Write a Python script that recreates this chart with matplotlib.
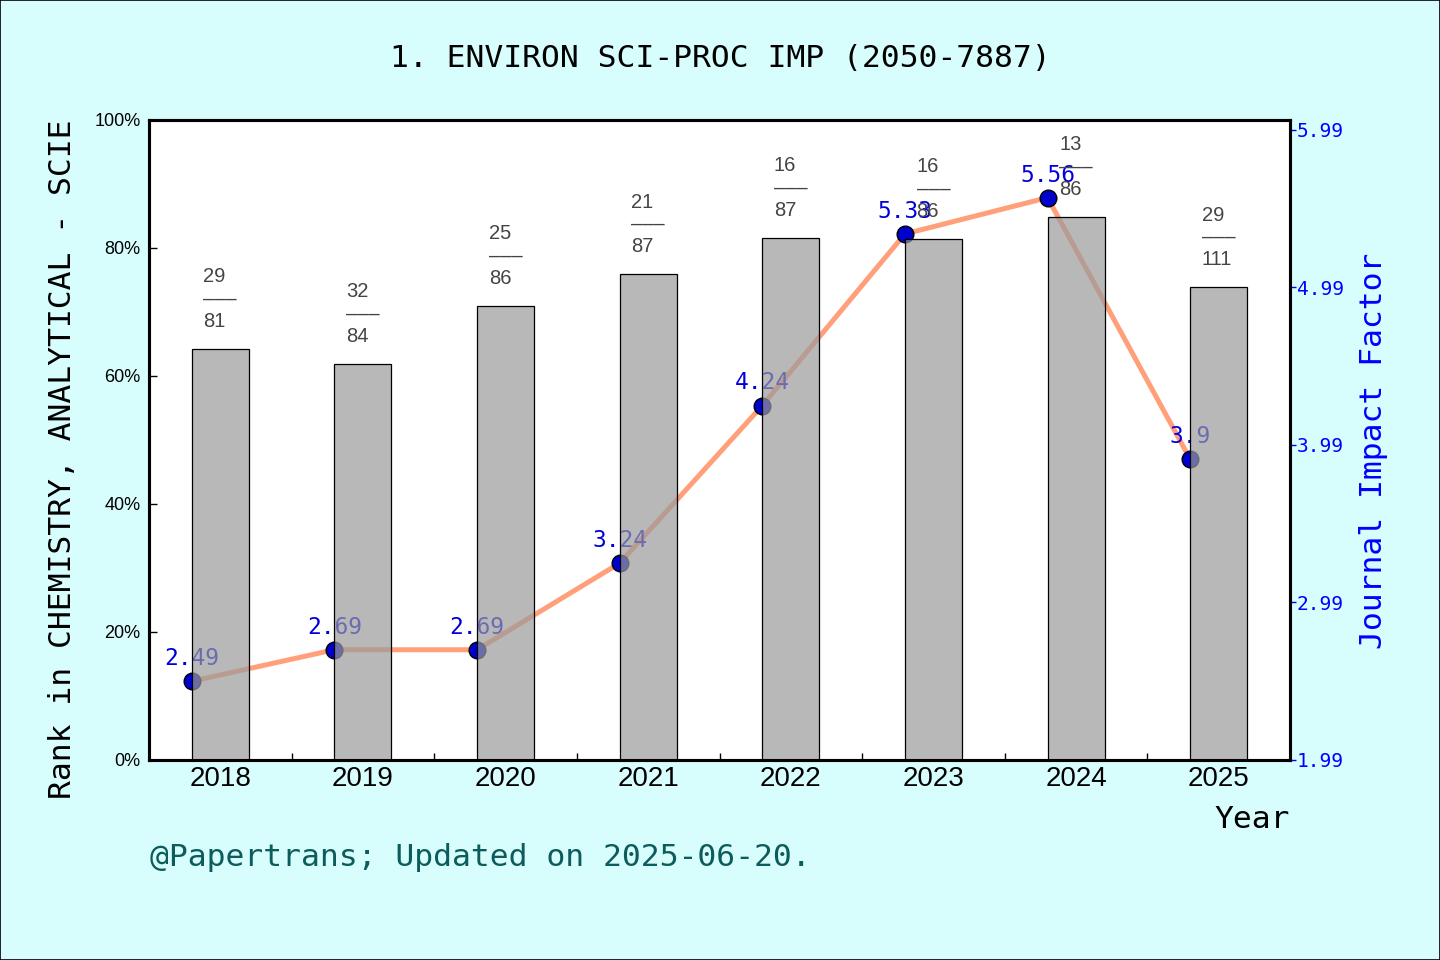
import matplotlib
matplotlib.use("Agg")
import matplotlib.pyplot as plt
import numpy as np

years = ["2018", "2019", "2020", "2021", "2022", "2023", "2024", "2025"]
ranks = [29, 32, 25, 21, 16, 16, 13, 29]
totals = [81, 84, 86, 87, 87, 86, 86, 111]
impact = [2.49, 2.69, 2.69, 3.24, 4.24, 5.33, 5.56, 3.9]
if_ticks = [1.99, 2.99, 3.99, 4.99, 5.99]

title = "1. ENVIRON SCI-PROC IMP (2050-7887)"
ylabel_left = "Rank in CHEMISTRY, ANALYTICAL - SCIE"
ylabel_right = "Journal Impact Factor"
footer = "@Papertrans; Updated on 2025-06-20."

W, H = 1440, 960
BG = "#d8fdfd"
MONO = "DejaVu Sans Mono"
SANS = "Liberation Sans"

fig = plt.figure(figsize=(W / 100, H / 100), dpi=100, facecolor=BG)
fig.patches.append(plt.Rectangle((0, 0), 1, 1, transform=fig.transFigure,
                                 fill=False, edgecolor="black", linewidth=1.2))

rect = [149 / W, 1 - 760 / H, (1290 - 149) / W, (760 - 120) / H]
ax = fig.add_axes(rect)
ax2 = ax.twinx()
ax.set_zorder(2)
ax2.set_zorder(1)
ax.patch.set_visible(False)
ax2.patch.set_visible(True)
ax2.patch.set_facecolor("white")

x = np.arange(len(years))
pct = [100 * (1 - r / t) for r, t in zip(ranks, totals)]

# Bars (top layer, semi-transparent face)
ax.bar(x, pct, width=0.4, align="edge",
       facecolor=(154 / 255, 155 / 255, 156 / 255, 0.7),
       edgecolor="black", linewidth=0.9)
for xi, p, r, t in zip(x, pct, ranks, totals):
    ax.annotate(f"{r}\n–––\n{t}", (xi + 0.2, p), xytext=(0, 13),
                textcoords="offset points", ha="center", va="bottom",
                multialignment="left",
                fontsize=14.5, color="#444444", family=SANS, linespacing=1.22)

ax.set_xlim(-0.3, 7.7)
ax.set_ylim(0, 100)
ax.set_yticks([0, 20, 40, 60, 80, 100])
ax.set_yticklabels([f"{v}%" for v in [0, 20, 40, 60, 80, 100]],
                   family=SANS, fontsize=13)
ax.tick_params(axis="y", direction="in", length=6, width=1, pad=6)

ax.set_xticks(x + 0.7)
ax.set_xticklabels([])
ax.set_xticks(x + 0.2, minor=True)
ax.set_xticklabels(years, minor=True, family=SANS, fontsize=20)
ax.tick_params(axis="x", which="major", direction="in", length=5, width=1)
ax.tick_params(axis="x", which="minor", length=0, pad=4)

# Line (bottom layer)
ax2.plot(x, impact, color="#ffa07a", linewidth=3.6, zorder=2)
ax2.plot(x, impact, linestyle="none", marker="o", markersize=12,
         markerfacecolor="#0000cc", markeredgecolor="black",
         markeredgewidth=1, zorder=3)
for xi, v in zip(x, impact):
    ax2.annotate(f"{v:g}", (xi, v), xytext=(0, 8), textcoords="offset points",
                 ha="center", va="bottom", fontsize=16.5, color="#0000dd",
                 family=MONO)
ax2.set_ylim(1.99, 6.053)
ax2.set_yticks(if_ticks)
ax2.set_yticklabels([f"{v:.2f}" for v in if_ticks], family=MONO,
                    fontsize=14, color="blue")
ax2.tick_params(axis="y", direction="out", length=4, width=1, color="blue",
                pad=1)

for a in (ax, ax2):
    for s in a.spines.values():
        s.set_linewidth(2.2)
        s.set_color("black")

fig.text(0.5, 1 - 67 / H, title, ha="center", va="baseline",
         family=MONO, fontsize=22.6, color="black")
fig.text(63 / W, 1 - 459 / H, ylabel_left, rotation=90, ha="center",
         va="center", family=MONO, fontsize=22.6, color="black")
fig.text(1373 / W, 1 - 451 / H, ylabel_right, rotation=90, ha="center",
         va="center", family=MONO, fontsize=22.6, color="blue")
fig.text(1290 / W, 1 - 828 / H, "Year", ha="right", va="baseline",
         family=MONO, fontsize=22.6, color="black")
fig.text(150 / W, 1 - 866 / H, footer, ha="left", va="baseline",
         family=MONO, fontsize=22.6, color="#0d5c5c")

fig.savefig("out.png", dpi=100, facecolor=BG)
